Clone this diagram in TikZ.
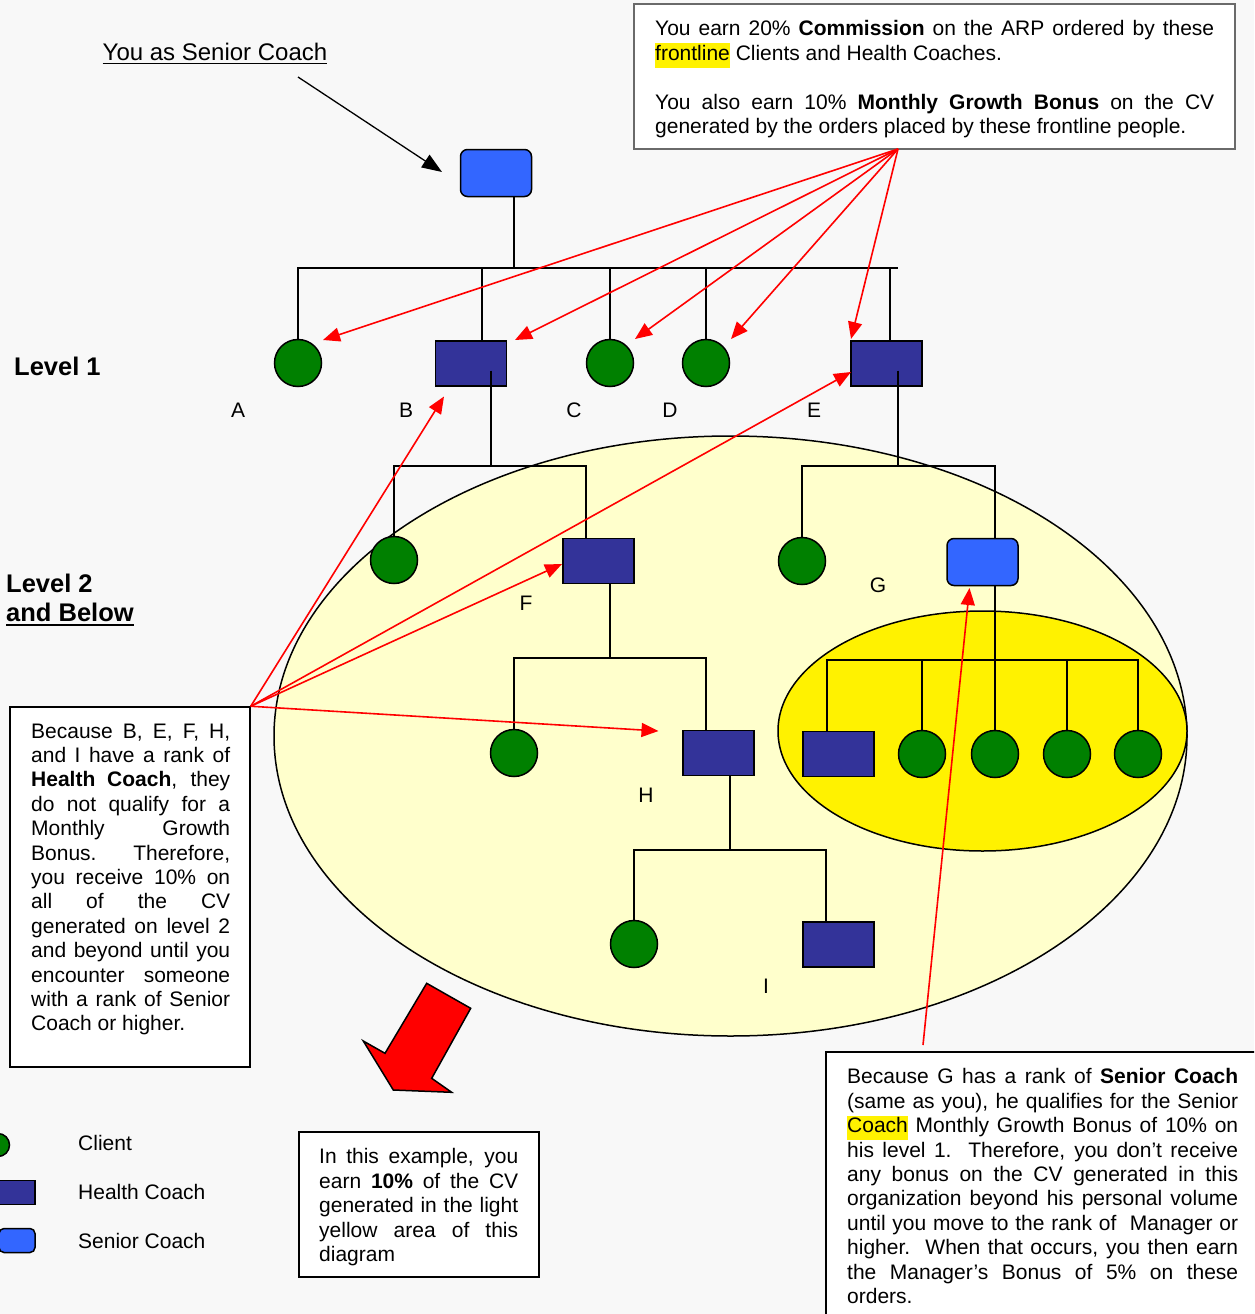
\documentclass[tikz,border=0pt]{standalone}
\usepackage{fontspec}
\setmainfont{Liberation Sans}
\usetikzlibrary{calc,arrows.meta,shapes.geometric}

\definecolor{bg}{HTML}{F8F8F8}
\definecolor{client}{HTML}{008000}
\definecolor{hcoach}{HTML}{333399}
\definecolor{scoach}{HTML}{3366FF}
\definecolor{paleyellow}{HTML}{FFFFCC}
\definecolor{boxgray}{HTML}{6A6A6A}

\setlength{\parindent}{0pt}
\hyphenpenalty=10000
\exhyphenpenalty=10000
\tolerance=10000
\hbadness=10000

\newcommand\bodyfont{\fontsize{21}{24.4}\selectfont}
\newcommand\levelfont{\fontsize{25.5}{30}\selectfont\bfseries}
\newcommand\hlword[1]{{\setlength{\fboxsep}{0pt}\colorbox{yellow}{\strut #1}}}
% underline with given offset below baseline and thickness
\newcommand\ulined[3]{\setbox0=\hbox{#3}\rlap{\vrule height -#1 depth \dimexpr #1+#2\relax width \wd0}\box0}

\begin{document}
\begin{tikzpicture}[x=1pt,y=-1pt,
  tree/.style={draw=black, line width=1.5pt},
  clientnode/.style={circle, draw=black, line width=1.5pt, fill=client, minimum size=47pt, inner sep=0pt},
  hcnode/.style={rectangle, draw=black, line width=1.5pt, fill=hcoach, minimum width=71pt, minimum height=45pt, inner sep=0pt},
  scnode/.style={rectangle, rounded corners=7pt, draw=black, line width=1.5pt, fill=scoach, minimum width=71pt, minimum height=47pt, inner sep=0pt},
  letter/.style={font=\bodyfont, inner sep=0pt},
  redarrow/.style={draw=red, line width=1.6pt, -{Triangle[length=17pt,width=14pt]}},
  textbox/.style={draw=black, line width=1.5pt, fill=white, inner sep=0pt},
  boxtext/.style={font=\bodyfont, align=justify, inner sep=0pt, anchor=north west},
  zone/.style={ellipse, draw=black, line width=1.5pt, inner sep=0pt}
]
\useasboundingbox (0,0) rectangle (1254,1314);
\clip (0,0) rectangle (1254,1314);
\fill[bg] (0,0) rectangle (1254,1314);

% areas of the organization
\node[zone, fill=paleyellow, minimum width=913pt, minimum height=600pt] (outerzone) at (730.5,736) {};
\node[zone, fill=yellow, minimum width=409pt, minimum height=240pt] (innerzone) at (982.5,731) {};

% people
\node[scnode] (you) at (496,173) {};
\node[clientnode] (A) at (298,363) {};
\node[hcnode] (B) at (471,363.5) {};
\node[clientnode] (C) at (610,363) {};
\node[clientnode] (D) at (706,363) {};
\node[hcnode] (E) at (886.5,363.5) {};
\node[clientnode] (B1) at (394,560) {};
\node[hcnode] (F) at (598.5,561) {};
\node[clientnode] (E1) at (802,561) {};
\node[scnode] (G) at (982.5,562) {};
\node[clientnode] (F1) at (514,753) {};
\node[hcnode] (H) at (718.5,753) {};
\node[hcnode] (G1) at (838.5,754) {};
\node[clientnode] (G2) at (922,754) {};
\node[clientnode] (G3) at (995,754) {};
\node[clientnode] (G4) at (1067,754) {};
\node[clientnode] (G5) at (1138,754) {};
\node[clientnode] (H1) at (634,944) {};
\node[hcnode] (I) at (838.5,944.5) {};

% sponsor lines, level 1
\coordinate (bus1) at (514,268);
\coordinate (bus1end) at (898,268);
\coordinate (dB) at ($(B.north)+(11,0)$);
\coordinate (dE) at ($(E.north)+(3.5,0)$);
\draw[tree] ($(you.south)+(18,0)$) -- (bus1);
\draw[tree] (A.north) -- (A.north |- bus1) -- (bus1end);
\draw[tree] (dB) -- (dB |- bus1);
\draw[tree] (C.north) -- (C.north |- bus1);
\draw[tree] (D.north) -- (D.north |- bus1);
\draw[tree] (dE) -- (dE |- bus1);

% below B
\coordinate (bB) at ($(B.center)+(20,7)$);
\coordinate (bus2) at (491,466);
\coordinate (dF) at ($(F.north)+(-12.5,0)$);
\draw[tree] (bB) -- (bus2);
\draw[tree] (B1.north) |- (dF |- bus2) -- (dF);

% below E
\coordinate (bE) at ($(E.center)+(11.5,7)$);
\coordinate (dG) at ($(G.north)+(12.5,0)$);
\draw[tree] (bE) -- (bE |- bus2);
\draw[tree] (E1.north) |- (dG |- bus2) -- (dG);

% below G
\coordinate (bus4) at (995,660);
\coordinate (dG1) at ($(G1.north)+(-11.5,0)$);
\draw[tree] (dG |- G.south) -- (G3.north);
\draw[tree] (dG1) |- (G5.north |- bus4) -- (G5.north);
\draw[tree] (G2.north) -- (G2.north |- bus4);
\draw[tree] (G4.north) -- (G4.north |- bus4);

% below F
\coordinate (bF) at ($(F.south)+(11.5,0)$);
\coordinate (bus5) at (610,658);
\coordinate (dH) at ($(H.north)+(-12.5,0)$);
\draw[tree] (bF) -- (bus5);
\draw[tree] (F1.north) |- (dH |- bus5) -- (dH);

% below H
\coordinate (bH) at ($(H.south)+(11.5,0)$);
\coordinate (bus6) at (730,850);
\coordinate (dI) at ($(I.north)+(-12.5,0)$);
\draw[tree] (bH) -- (bus6);
\draw[tree] (H1.north) |- (dI |- bus6) -- (dI);

% letters
\node[letter] (lA) at (238,410) {A};
\node[letter] (lB) at (406,410) {B};
\node[letter] (lC) at (574,410) {C};
\node[letter] (lD) at (670,410) {D};
\node[letter] (lE) at (814,410) {E};
\node[letter] (lF) at (526,603) {F};
\node[letter] (lG) at (878,585) {G};
\node[letter] (lH) at (646,795) {H};
\node[letter] (lI) at (766,986) {I};

% headings
\node[anchor=base west, inner sep=0pt, font=\fontsize{24}{28}\selectfont] (title) at (102.5,61) {\ulined{1.8pt}{1.6pt}{You as Senior Coach}};
\coordinate (titletail) at (298,77);
\draw[line width=1.3pt, -{Triangle[length=20pt,width=15pt]}] (titletail) -- ($(you.center)+(-54,-1)$);
\node[anchor=base west, inner sep=0pt, font=\levelfont] (lvl1) at (14,375) {Level 1};
\node[anchor=base west, inner sep=0pt, font=\levelfont] (lvl2) at (6,592) {Level 2};
\node[anchor=base west, inner sep=0pt, font=\levelfont] (lvl2b) at (6,621.5) {\ulined{2pt}{2.6pt}{and Below}};

% text boxes
\node[textbox, draw=boxgray, minimum width=601pt, minimum height=145pt] (topbox) at (934.5,76.5) {};
\node[boxtext, text width=559pt] (toptext) at (655,20.4) {You earn 20\% \textbf{Commission} on the ARP ordered by these\linebreak
\hlword{frontline} Clients and Health Coaches.\par\vspace{24.4pt}
You also earn 10\% \textbf{Monthly Growth Bonus} on the CV\linebreak
generated by the orders placed by these frontline people.};

\node[textbox, minimum width=240pt, minimum height=360pt] (leftbox) at (130,887) {};
\node[boxtext, text width=199pt] (lefttext) at (31,723.4) {Because B, E, F, H,\linebreak
and I have a rank of\linebreak
\textbf{Health Coach}, they\linebreak
do not qualify for a\linebreak
Monthly Growth\linebreak
Bonus.\ \ Therefore,\linebreak
you receive 10\% on\linebreak
all of the CV\linebreak
generated on level 2\linebreak
and beyond until you\linebreak
encounter someone\linebreak
with a rank of Senior\linebreak
Coach or higher.};

\node[textbox, minimum width=240pt, minimum height=145pt] (midbox) at (419,1204.5) {};
\node[boxtext, text width=199pt] (midtext) at (319,1148.4) {In this example, you\linebreak
earn \textbf{10\%} of the CV\linebreak
generated in the light\linebreak
yellow area of this\linebreak
diagram};

\node[textbox, minimum width=436pt, minimum height=270pt] (brbox) at (1044,1187) {};
\node[boxtext, text width=391pt] (brtext) at (847,1068.4) {Because G has a rank of \textbf{Senior Coach}\linebreak
(same as you), he qualifies for the Senior\linebreak
\hlword{Coach} Monthly Growth Bonus of 10\% on\linebreak
his level 1.\ \ Therefore, you don’t receive\linebreak
any bonus on the CV generated in this\linebreak
organization beyond his personal volume\linebreak
until you move to the rank of\ \ Manager or\linebreak
higher.\ \ When that occurs, you then earn\linebreak
the Manager’s Bonus of 5\% on these\linebreak
orders.};

% pointers from the top box
\coordinate (topsrc) at (898,149);
\draw[redarrow] (topsrc) -- ($(A.center)+(25,-23)$);
\draw[redarrow] (topsrc) -- ($(B.center)+(44,-23.5)$);
\draw[redarrow] (topsrc) -- ($(C.center)+(25,-24)$);
\draw[redarrow] (topsrc) -- ($(D.center)+(25,-24)$);
\draw[redarrow] (topsrc) -- ($(E.center)+(-35.5,-24.5)$);

% pointers from the left box
\draw[redarrow] (leftbox.north east) -- ($(B.center)+(-27,33)$);
\draw[redarrow] (leftbox.north east) -- ($(E.center)+(-35.5,8.5)$);
\draw[redarrow] (leftbox.north east) -- ($(F.center)+(-36.5,3)$);
\draw[redarrow] (leftbox.north east) -- ($(H.center)+(-60,-22)$);

% pointer from the lower right box
\coordinate (brsrc) at (923,1045);
\draw[redarrow] (brsrc) -- ($(G.center)+(-13,26)$);

% block arrow
\draw[line width=1.5pt, fill=red, line join=miter] (426.7,983.3) -- (470.7,1008.3) -- (431.7,1078.3) -- (451.7,1092.3) -- (393.3,1090) -- (363.3,1041) -- (385,1053.3) -- cycle;

% legend
\node[clientnode, minimum size=23pt] (legclient) at (-2,1145) {};
\node[hcnode, minimum width=36pt, minimum height=24pt] (leghc) at (17,1192.5) {};
\node[scnode, rounded corners=5pt, minimum width=36pt, minimum height=24pt] (legsc) at (17,1240.5) {};
\node[letter, anchor=west] (legclienttext) at (78,1143) {Client};
\node[letter, anchor=west] (leghctext) at (78,1192) {Health Coach};
\node[letter, anchor=west] (legsctext) at (78,1241) {Senior Coach};
\end{tikzpicture}
\end{document}
